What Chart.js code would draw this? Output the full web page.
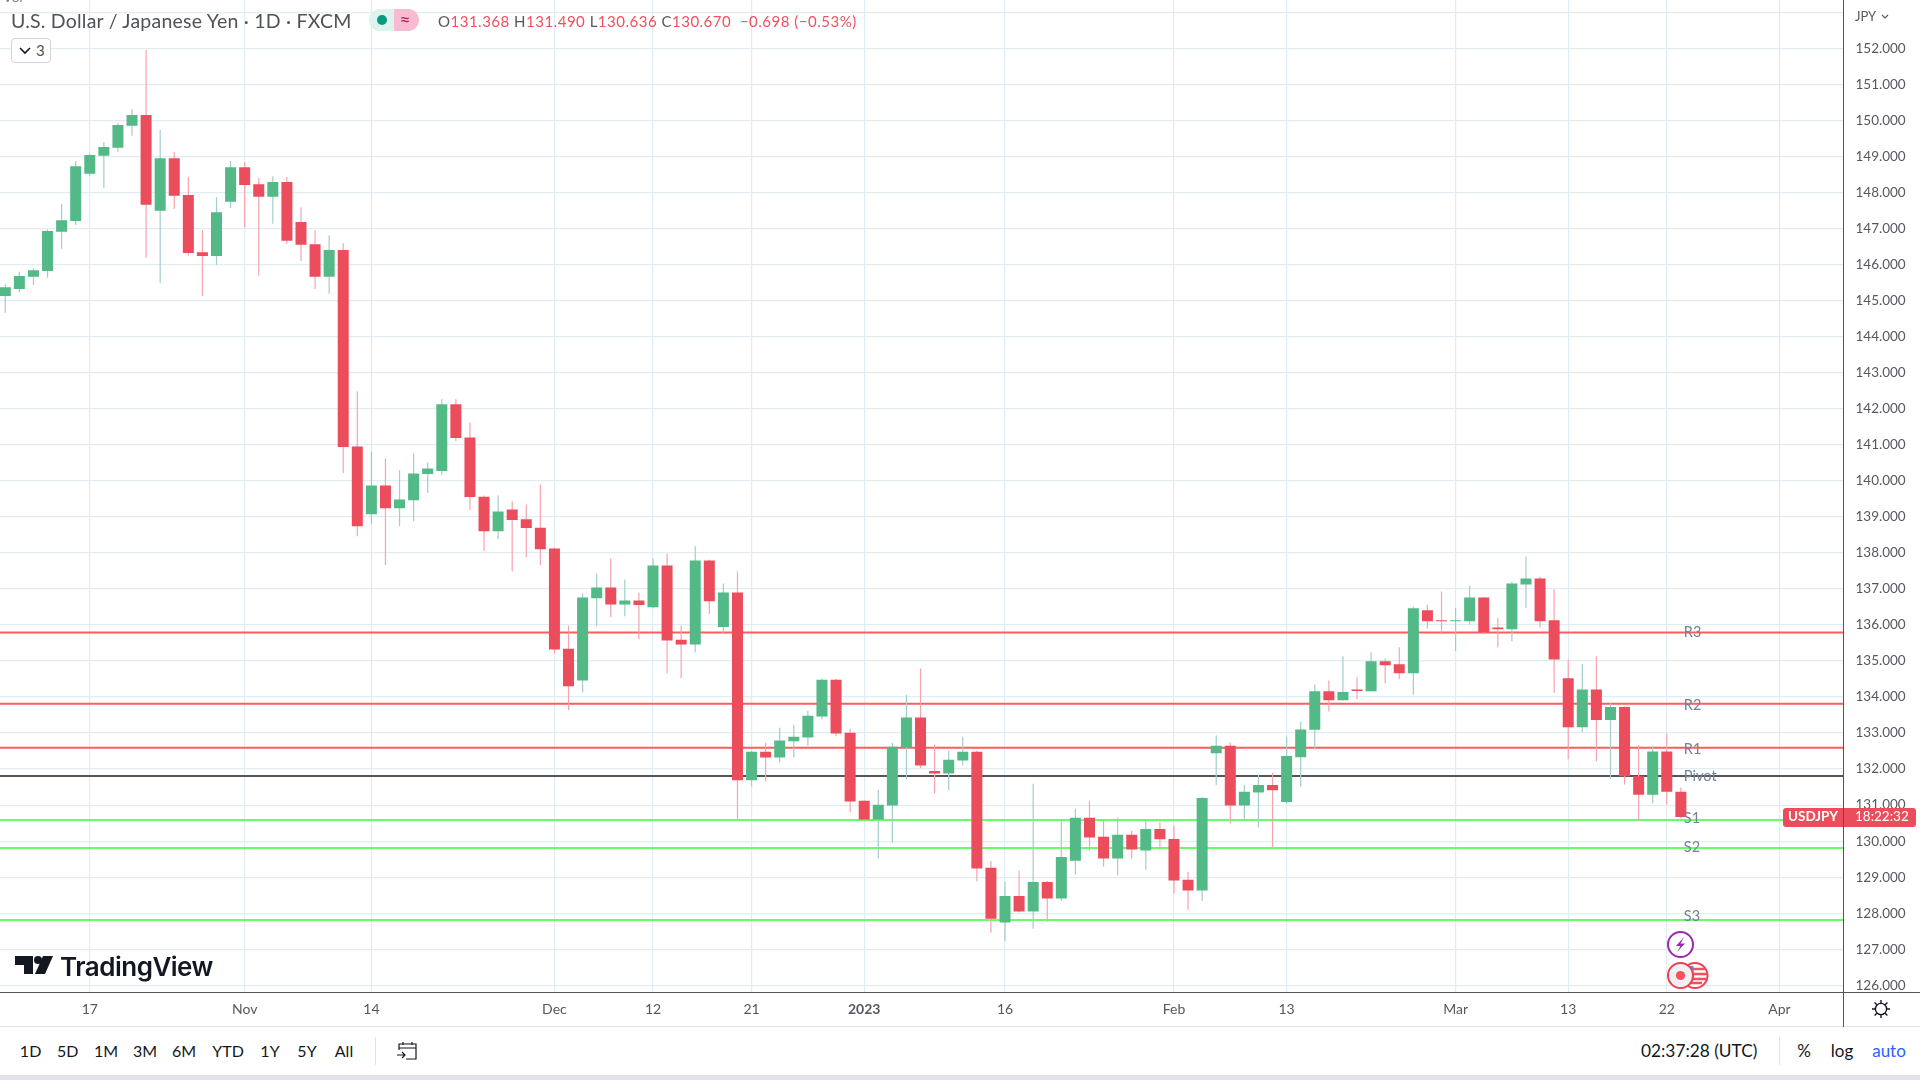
<!DOCTYPE html>
<html>
<head>
<meta charset="utf-8">
<title>USDJPY</title>
<script src="https://cdn.jsdelivr.net/npm/chart.js@4/dist/chart.umd.min.js"></script>
<style>
html,body{margin:0;padding:0;background:#fff;width:1920px;height:1080px;overflow:hidden;font-family:Lato,sans-serif}
#c{position:absolute;left:0;top:0}
.t{position:absolute;white-space:nowrap;line-height:1}
.b{position:absolute}
.cx{transform:translateX(-50%)}
.red{color:#ef5160}.gry{color:#55585f}
</style>
</head>
<body>
<canvas id="c" width="1920" height="1027"></canvas>

<div class="t" style="left:3px;top:-10px;font-size:14px;color:#787b86">Vol</div>
<div class="t" style="left:11px;top:11px;font-size:19.5px;letter-spacing:.22px;color:#4f5257" id="title">U.S. Dollar / Japanese Yen · 1D · FXCM</div>
<div class="b" style="left:369px;top:9px;width:25px;height:22px;background:#def2ee;border-radius:11px 0 0 11px"></div>
<div class="b" style="left:394px;top:9px;width:25px;height:22px;background:#f8bbd0;border-radius:0 11px 11px 0"></div>
<div class="b" style="left:377px;top:15px;width:10px;height:10px;background:#089981;border-radius:50%"></div>
<div class="t cx" style="left:405px;top:10px;font-size:19px;color:#c2185b">≈</div>
<div class="t" id="ohlc" style="left:438px;top:14px;font-size:15px;letter-spacing:.5px"><span class="gry">O</span><span class="red">131.368</span> <span class="gry">H</span><span class="red">131.490</span> <span class="gry">L</span><span class="red">130.636</span> <span class="gry">C</span><span class="red">130.670</span> <span class="red">&nbsp;−0.698 (−0.53%)</span></div>
<div class="b" style="left:11px;top:38px;width:38px;height:23px;border:1px solid #d1d4dc;border-radius:4px;background:#fff"></div>
<svg class="b" style="left:19px;top:46px" width="12" height="9"><path d="M1 2 L6 7 L11 2" fill="none" stroke="#131722" stroke-width="1.6"/></svg>
<div class="t" style="left:36px;top:43px;font-size:15px;color:#4f5257">3</div>

<div class="t" style="left:1855px;top:10px;font-size:13px;color:#55585f">JPY</div>
<svg class="b" style="left:1881px;top:14px" width="8" height="6"><path d="M1 1 L4 4 L7 1" fill="none" stroke="#55585f" stroke-width="1.2"/></svg>

<!-- separators -->
<div class="b" style="left:0;top:1026px;width:1920px;height:1px;background:#e0e3eb"></div>
<div class="b" style="left:1843px;top:0;width:1px;height:1027px;background:#555"></div>
<div class="b" style="left:0;top:992px;width:1920px;height:1px;background:#555"></div>
<div class="b" style="left:0;top:1075px;width:1920px;height:5px;background:#e0e3eb"></div>

<!-- price tags -->
<div class="b" style="left:1783px;top:808px;width:60px;height:19px;background:#eb4d5c;border-radius:3px 0 0 3px"></div>
<div class="b" style="left:1844px;top:808px;width:72px;height:19px;background:#eb4d5c;border-radius:0 3px 3px 0"></div>
<div class="t" style="left:1788px;top:810px;font-size:13.5px;font-weight:700;color:#fff">USDJPY</div>
<div class="t" style="left:1855px;top:810px;font-size:13.5px;color:#fff">18:22:32</div>

<!-- logo -->
<svg class="b" style="left:14px;top:955px" width="40" height="20" viewBox="0 0 40 20">
<path d="M1 1 H19 V19 H10 V10 H1 Z" fill="#131722"/><circle cx="24" cy="5" r="4" fill="#131722"/><path d="M29 1 H39 L31 19 H21 Z" fill="#131722"/></svg>
<div class="t" style="left:60px;top:953.5px;font-size:26px;font-weight:600;font-family:Inter,Lato,sans-serif;color:#131722;letter-spacing:-.5px">TradingView</div>

<!-- bottom toolbar -->
<div id="ranges"></div>
<div class="b" style="left:375px;top:1037px;width:1px;height:28px;background:#e0e3eb"></div>
<svg class="b" style="left:396px;top:1041px" width="22" height="20" fill="none" stroke="#131722" stroke-width="1.2">
<path d="M3 9 V3 H20 V18 H10 M3 7 H20 M7 1 V4 M16 1 V4 M1 14 H9 M6 11 L9 14 L6 17"/></svg>
<div class="t" style="left:1641px;top:1042px;font-size:17.3px;color:#131722">02:37:28 (UTC)</div>
<div class="b" style="left:1779px;top:1037px;width:1px;height:28px;background:#e0e3eb"></div>
<div class="t cx" style="left:1804px;top:1042px;font-size:17px;color:#131722">%</div>
<div class="t cx" style="left:1842px;top:1042px;font-size:17px;color:#131722">log</div>
<div class="t cx" style="left:1889px;top:1042px;font-size:17px;color:#2962ff">auto</div>
<svg class="b" style="left:1871px;top:999px" width="20" height="20" fill="none" stroke="#131722" stroke-width="1.4">
<circle cx="10" cy="10" r="5.6"/><path d="M10 1 V4 M10 16 V19 M1 10 H4 M16 10 H19 M3.6 3.6 L5.8 5.8 M14.2 14.2 L16.4 16.4 M3.6 16.4 L5.8 14.2 M14.2 5.8 L16.4 3.6"/></svg>

<!-- event markers -->
<svg class="b" style="left:1660px;top:928px" width="52" height="64">
<circle cx="20.5" cy="16.5" r="12.5" fill="#fff" stroke="#9c27b0" stroke-width="2"/>
<path d="M24 9 L16 18 H20.5 L17 24 L25 15.5 H20.5 Z" fill="#9c27b0"/>
<circle cx="35" cy="47.5" r="12.5" fill="#fff" stroke="#ef3f4c" stroke-width="2"/>
<path d="M30 41 H45 M30 46 H47 M30 51 H46 M30 55 H42" stroke="#ef5160" stroke-width="2.6"/>
<rect x="29.5" y="38" width="4" height="9" fill="#4a90e2"/>
<circle cx="20.5" cy="47.5" r="12.5" fill="#eef0f4" stroke="#ef3f4c" stroke-width="2"/>
<circle cx="20.5" cy="47.5" r="4.6" fill="#f4525f"/>
</svg>

<script>
const opens=[145.13,145.32,145.66,145.82,146.91,147.21,148.52,149.02,149.24,149.85,
150.15,147.49,148.95,147.93,146.34,146.24,147.74,148.70,148.23,147.88,
148.29,147.18,146.56,145.66,146.40,140.95,139.07,139.87,139.24,139.46,
140.19,140.27,142.12,141.20,139.56,138.60,139.20,138.93,138.70,138.12,
135.34,134.46,136.74,137.04,136.57,136.68,136.49,137.65,135.59,135.46,
137.79,135.94,136.90,131.69,132.48,132.32,132.77,132.88,133.46,134.48,
133.01,131.12,130.60,130.99,132.60,133.43,131.95,131.88,132.24,132.48,
129.26,127.74,128.48,128.05,128.87,128.41,129.46,130.65,130.12,129.52,
130.18,129.74,130.34,130.06,128.93,128.63,132.44,132.65,130.99,131.35,
131.56,131.09,132.33,133.09,134.16,133.91,134.21,134.16,134.99,134.91,
134.66,136.41,136.13,136.10,136.10,136.76,135.93,135.88,137.12,137.29,
136.13,134.52,133.16,134.21,133.36,133.72,131.80,131.29,132.49,131.368];
const closes=[145.37,145.68,145.84,146.93,147.23,148.73,149.04,149.26,149.87,150.15,
147.66,148.95,147.91,146.32,146.24,147.45,148.70,148.21,147.88,148.29,
146.66,146.55,145.66,146.40,140.94,138.74,139.87,139.24,139.48,140.20,
140.34,142.12,141.19,139.55,138.60,139.15,138.91,138.69,138.10,135.32,
134.30,136.76,137.04,136.57,136.68,136.55,137.65,135.57,135.46,137.79,
136.66,136.90,131.69,132.48,132.32,132.79,132.90,133.48,134.48,132.99,
131.10,130.60,131.01,132.62,133.43,132.10,131.88,132.26,132.48,129.24,
127.85,128.48,128.05,128.87,128.41,129.56,130.65,130.10,129.52,130.18,
129.77,130.34,130.05,128.91,128.63,131.20,132.65,130.99,131.37,131.56,
131.41,132.36,133.10,134.16,133.91,134.14,134.17,134.99,134.88,134.66,
136.46,136.10,136.10,136.13,136.76,135.80,135.88,137.15,137.29,136.10,
135.04,133.16,134.21,133.36,133.72,131.80,131.29,132.49,131.37,130.670];
const highs=[145.45,145.81,145.90,146.98,147.68,148.87,149.08,149.40,149.93,150.31,
151.95,149.73,149.12,148.43,146.95,147.87,148.87,148.84,148.40,148.45,
148.43,147.59,146.95,146.81,146.59,142.48,140.81,140.62,140.29,140.76,
140.51,142.26,142.26,141.62,139.59,139.59,139.43,139.34,139.90,138.14,
135.98,136.87,137.43,137.84,137.26,136.90,137.84,137.98,135.98,138.18,
137.81,137.15,137.48,132.50,132.73,133.15,133.23,133.62,134.51,134.50,
133.12,131.13,131.43,132.73,134.06,134.79,132.68,132.51,132.90,132.51,
129.45,128.87,129.18,131.59,128.90,130.59,130.90,131.12,130.59,130.65,
130.29,130.56,130.54,130.43,129.15,131.23,132.93,132.73,131.56,131.84,
131.90,132.90,133.32,134.35,134.46,135.13,134.55,135.24,135.07,135.38,
136.51,136.57,136.93,136.48,137.09,136.77,136.19,137.20,137.90,137.34,
136.99,135.04,134.91,135.13,133.83,133.74,132.67,132.64,132.99,131.490];
const lows=[144.66,145.24,145.43,145.63,146.44,147.10,148.45,148.13,149.13,149.57,
146.19,145.49,147.54,146.25,145.13,145.99,147.57,147.02,145.69,147.13,
146.57,146.10,145.32,145.19,140.21,138.46,138.80,137.66,138.74,138.88,
139.66,140.16,141.10,139.19,138.05,138.38,137.49,137.88,137.66,135.21,
133.63,134.13,135.96,136.21,136.24,135.60,136.46,134.66,134.52,135.24,
136.30,135.77,130.62,131.52,131.66,132.19,132.32,132.65,133.38,132.91,
130.80,130.59,129.52,129.96,131.71,132.02,131.32,131.41,132.10,128.88,
127.46,127.24,128.02,127.57,127.77,128.35,129.07,129.74,129.30,129.05,
129.52,129.21,129.77,128.55,128.10,128.35,131.55,130.49,130.62,130.38,
129.82,131.04,131.51,132.55,133.60,133.90,133.94,134.15,134.38,134.49,
134.06,135.90,135.74,135.27,136.01,135.74,135.38,135.55,136.48,135.93,
134.12,132.27,133.03,132.22,131.73,131.57,130.57,131.05,131.01,130.636];

const pivotNames=['R3','R2','R1','Pivot','S1','S2','S3'];
const pivotValues=[135.79,133.81,132.59,131.81,130.59,129.81,127.81];
const pivotColors=['#ff5c5c','#ff5c5c','#ff5c5c','#555555','#66ff66','#66ff66','#66ff66'];
const pivotLabelNudge=[0,1,1,0,-2,-1,-4];

const xTickPositions=[6,17,26,39,46,53,61,71,83,91,103,111,118,126];
const xTickLabels=['17','Nov','14','Dec','12','21','2023','16','Feb','13','Mar','13','22','Apr'];
const yTickValues=[126,127,128,129,130,131,132,133,134,135,136,137,138,139,140,141,142,143,144,145,146,147,148,149,150,151,152,153];
const rangeNames=['1D','5D','1M','3M','6M','YTD','1Y','5Y','All'];
const rangeCenters=[30.6,67.8,106,145,184,228,270,307,344];

const UP='#53b987',DOWN='#eb4d5c',UPW='#a3cdca',DOWNW='#f7a3ae';
const GRID='#e2edf3';
const idx=opens.map((_,i)=>i);
const X_MIN=-0.376,X_MAX=130.55,Y_MIN=125.815,Y_MAX=153.34;

const ranges=document.getElementById('ranges');
rangeNames.forEach((n,i)=>{const d=document.createElement('div');d.className='t cx';d.textContent=n;
 d.style.cssText=`left:${rangeCenters[i]}px;top:1043px;font-size:16px;color:#131722`;ranges.appendChild(d);});

const pivotText={id:'pivotText',afterDatasetsDraw(chart){
 const {ctx,scales:{x,y}}=chart;ctx.save();ctx.font='14.5px Lato';ctx.fillStyle='#738296';ctx.textBaseline='middle';ctx.textAlign='left';
 const px=x.getPixelForValue(idx[idx.length-1])+3;
 pivotNames.forEach((n,i)=>ctx.fillText(n,px,y.getPixelForValue(pivotValues[i])+pivotLabelNudge[i]));
 ctx.restore();}};

const lineSets=pivotValues.map((v,i)=>({type:'line',label:pivotNames[i],order:3,
 data:[{x:X_MIN,y:v},{x:X_MAX,y:v}],borderColor:pivotColors[i],borderWidth:2,pointRadius:0,tension:0,fill:false}));

const zeroPad=s=>{s.paddingTop=0;s.paddingBottom=0;s.paddingLeft=0;s.paddingRight=0;};

new Chart(document.getElementById('c'),{
 type:'bar',
 data:{datasets:[
  ...lineSets,
  {label:'Wicks',order:2,data:idx.map(i=>({x:i,y:[lows[i],highs[i]]})),barThickness:1.2,grouped:false,inflateAmount:0,borderWidth:0,
   backgroundColor:idx.map(i=>closes[i]>=opens[i]?UPW:DOWNW)},
  {label:'Bodies',order:1,data:idx.map(i=>({x:i,y:[opens[i],closes[i]]})),barThickness:11,grouped:false,inflateAmount:0,borderWidth:0,
   backgroundColor:idx.map(i=>closes[i]>=opens[i]?UP:DOWN)}
 ]},
 plugins:[pivotText],
 options:{
  responsive:false,animation:false,devicePixelRatio:1,
  layout:{padding:0,autoPadding:false},
  plugins:{legend:{display:false},tooltip:{enabled:false}},
  scales:{
   x:{type:'linear',min:X_MIN,max:X_MAX,offset:false,bounds:'data',
    afterBuildTicks(s){s.ticks=xTickPositions.map(v=>({value:v}));},
    afterFit(s){s.height=35;zeroPad(s);},
    border:{display:false},
    grid:{color:GRID,lineWidth:1.2,drawTicks:false,offset:false},
    ticks:{autoSkip:false,maxRotation:0,padding:9,color:'#55585f',includeBounds:false,
     callback(v){const k=xTickPositions.indexOf(v);return k<0?'':xTickLabels[k];},
     font(ctx){return {family:'Lato',size:14,weight:(ctx.tick&&ctx.tick.value===61)?'700':'400'};}}
   },
   y:{type:'linear',position:'right',min:Y_MIN,max:Y_MAX,bounds:'data',
    afterBuildTicks(s){s.ticks=yTickValues.map(v=>({value:v}));},
    afterFit(s){s.width=76.5;zeroPad(s);},
    border:{display:false},
    grid:{color:GRID,lineWidth:1.2,drawTicks:false},
    ticks:{autoSkip:false,padding:12,color:'#55585f',crossAlign:'near',
     font:{family:'Lato',size:13.5},
     callback(v){return v>=153?'':v.toFixed(3);}}
   }
  }
 }
});
</script>
</body>
</html>
